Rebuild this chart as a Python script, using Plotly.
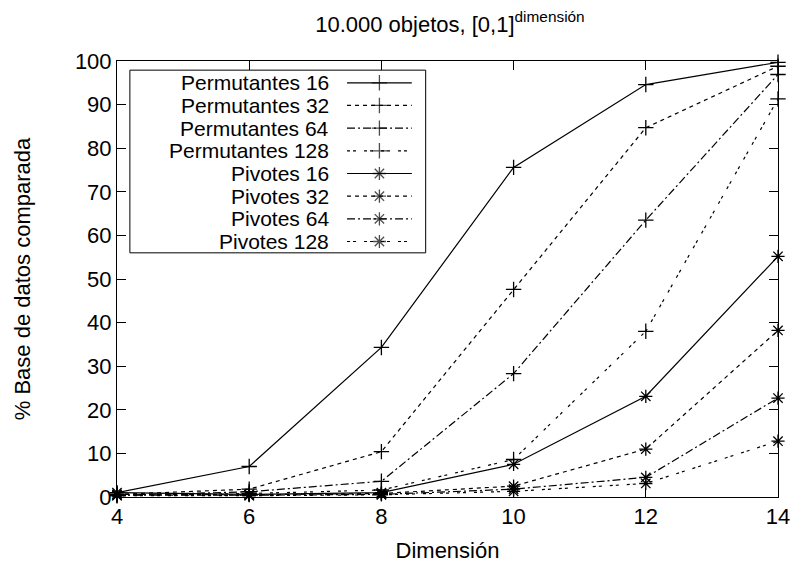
import plotly.graph_objects as go

dims = [4, 6, 8, 10, 12, 14]

series_names = [
    "Permutantes 16", "Permutantes 32", "Permutantes 64", "Permutantes 128",
    "Pivotes 16", "Pivotes 32", "Pivotes 64", "Pivotes 128",
]
perm16 = [1.0, 7.0, 34.3, 75.6, 94.6, 99.7]
perm32 = [0.6, 1.8, 10.4, 47.6, 84.7, 98.8]
perm64 = [0.4, 1.2, 3.6, 28.3, 63.5, 96.9]
perm128 = [0.3, 0.8, 1.6, 8.6, 38.0, 91.3]
piv16 = [1.0, 0.6, 1.0, 7.5, 23.1, 55.2]
piv32 = [0.6, 0.5, 0.8, 2.5, 11.0, 38.2]
piv64 = [0.4, 0.4, 0.6, 1.8, 4.5, 22.7]
piv128 = [0.3, 0.3, 0.5, 1.3, 3.1, 12.8]
values = [perm16, perm32, perm64, perm128, piv16, piv32, piv64, piv128]

dashes = ["solid", "4px,4px", "8px,3px,2px,3px", "3px,3px,3px,8px"] * 2
symbols = ["cross-thin-open"] * 4 + ["asterisk-open"] * 4

FONT = "Liberation Sans, Arial, sans-serif"
FS = 22
fig = go.Figure()

for name, ys, dash, sym in zip(series_names, values, dashes, symbols):
    fig.add_trace(go.Scatter(
        x=dims, y=ys, name=name, mode="lines+markers",
        line=dict(color="black", width=1.2, dash=dash),
        marker=dict(symbol=sym, size=11, color="black",
                    line=dict(color="black", width=1.3)),
        cliponaxis=False, showlegend=False,
    ))

# manual gnuplot-style key (text right-aligned, sample to the right)
row0 = 0.950
step = 0.052
tx = 0.324
sx0, sx1 = 0.348, 0.446
for i, (name, dash, sym) in enumerate(zip(series_names, dashes, symbols)):
    y = row0 - i * step
    fig.add_annotation(x=tx, y=y, xref="paper", yref="paper", text=name,
                       showarrow=False, xanchor="right", yanchor="middle",
                       font=dict(family=FONT, size=21, color="black"))
    fig.add_trace(go.Scatter(
        x=[sx0, (sx0 + sx1) / 2, sx1], y=[y, y, y], xaxis="x2", yaxis="y2",
        mode="lines+markers", showlegend=False, hoverinfo="skip",
        line=dict(color="black", width=1.2, dash=dash),
        marker=dict(symbol=sym, size=[0, 11, 0], color="black",
                    line=dict(color="black", width=1.3)),
        cliponaxis=False,
    ))

fig.add_shape(type="rect", xref="paper", yref="paper",
              x0=0.0195, x1=0.467, y0=0.560, y1=0.979,
              line=dict(color="black", width=1), layer="above")

axis_common = dict(
    showgrid=False, zeroline=False, showline=True, linecolor="black",
    linewidth=1, mirror="ticks", ticks="inside", ticklen=9, tickcolor="black",
    tickwidth=1, tickfont=dict(family=FONT, size=FS, color="black"),
)
fig.update_layout(
    width=802, height=571,
    paper_bgcolor="white", plot_bgcolor="white",
    margin=dict(l=117, r=19, t=61, b=74),
    title=dict(text="10.000 objetos, [0,1]<sup>dimensión</sup>",
               x=0.561, xanchor="center", y=0.958, yanchor="middle",
               font=dict(family=FONT, size=FS, color="black")),
    xaxis=dict(range=[4, 14], tickvals=dims, **axis_common,
               title=dict(text="Dimensión", standoff=14,
                          font=dict(family=FONT, size=FS, color="black"))),
    yaxis=dict(range=[0, 100], dtick=10, **axis_common,
               title=dict(text="% Base de datos comparada", standoff=38,
                          font=dict(family=FONT, size=FS, color="black"))),
    xaxis2=dict(range=[0, 1], overlaying="x", visible=False, fixedrange=True),
    yaxis2=dict(range=[0, 1], overlaying="y", visible=False, fixedrange=True),
    showlegend=False,
)

fig.write_html("out.html")
